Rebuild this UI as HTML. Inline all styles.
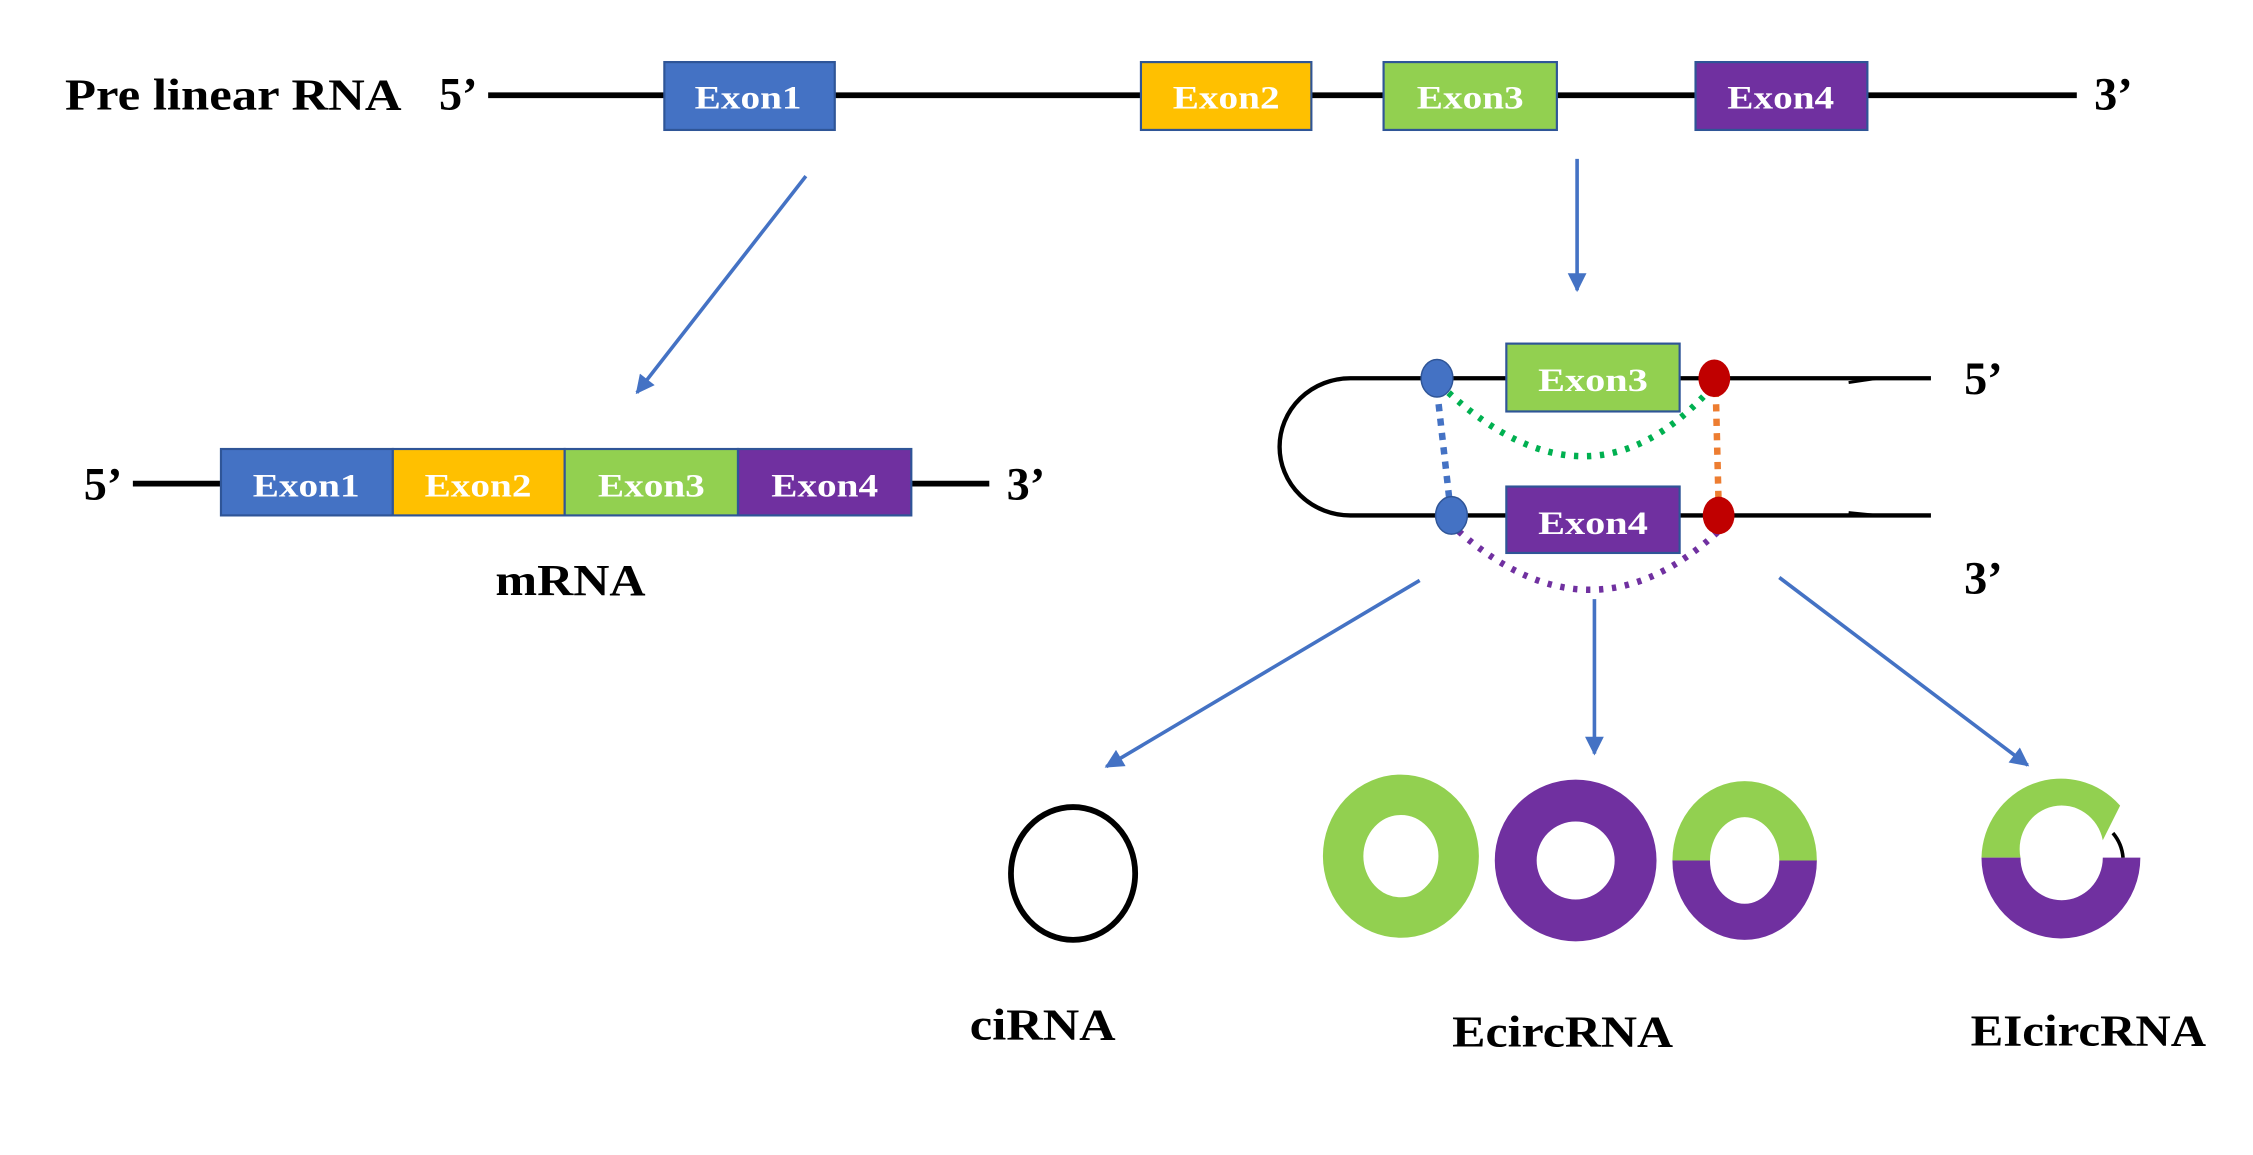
<!DOCTYPE html>
<html><head><meta charset="utf-8"><style>
html,body{margin:0;padding:0;background:#fff;}
svg{display:block;}
text{font-family:"Liberation Serif",serif;font-weight:bold;}
</style></head><body>
<svg width="2253" height="1155" viewBox="0 0 1560 800" preserveAspectRatio="none" xmlns="http://www.w3.org/2000/svg">
<defs>
<marker id="ah" viewBox="0 0 10 10" refX="9" refY="5" markerWidth="15" markerHeight="13" orient="auto" markerUnits="userSpaceOnUse">
<path d="M0,0 L10,5 L0,10 z" fill="#4472C4"/></marker>
</defs>
<rect width="1560" height="800" fill="#fff"/>
<!-- Pre linear RNA -->
<text x="45" y="76" font-size="31" textLength="233" lengthAdjust="spacingAndGlyphs">Pre linear RNA</text>
<text x="304" y="76" font-size="32">5’</text>
<line x1="338" y1="66" x2="1438" y2="66" stroke="#000" stroke-width="4"/>
<text x="1450" y="76" font-size="32">3’</text>
<g stroke-width="1.5" stroke="#2F5597">
<rect x="460" y="43" width="118" height="47" fill="#4472C4"/>
<rect x="790" y="43" width="118" height="47" fill="#FFC000"/>
<rect x="958" y="43" width="120" height="47" fill="#92D050"/>
<rect x="1174" y="43" width="119" height="47" fill="#7030A0"/>
</g>
<g font-size="23" fill="#fff" text-anchor="middle">
<text x="518" y="75" textLength="74" lengthAdjust="spacingAndGlyphs">Exon1</text>
<text x="849" y="75" textLength="74" lengthAdjust="spacingAndGlyphs">Exon2</text>
<text x="1018" y="75" textLength="74" lengthAdjust="spacingAndGlyphs">Exon3</text>
<text x="1233" y="75" textLength="74" lengthAdjust="spacingAndGlyphs">Exon4</text>
</g>
<!-- arrows -->
<g stroke="#4472C4" stroke-width="2.5" marker-end="url(#ah)">
<line x1="558" y1="122" x2="441" y2="272"/>
<line x1="1092" y1="110" x2="1092" y2="201"/>
<line x1="983" y1="402" x2="766" y2="531"/>
<line x1="1104" y1="415" x2="1104" y2="522"/>
<line x1="1232" y1="400" x2="1404" y2="530"/>
</g>
<!-- mRNA -->
<text x="58" y="346" font-size="32">5’</text>
<line x1="92" y1="335" x2="685" y2="335" stroke="#000" stroke-width="4"/>
<text x="697" y="346" font-size="32">3’</text>
<g stroke="#2F5597" stroke-width="1.5">
<rect x="153" y="311" width="119" height="46" fill="#4472C4"/>
<rect x="272" y="311" width="119" height="46" fill="#FFC000"/>
<rect x="391" y="311" width="120" height="46" fill="#92D050"/>
<rect x="511" y="311" width="120" height="46" fill="#7030A0"/>
</g>
<g font-size="23" fill="#fff" text-anchor="middle">
<text x="212" y="344" textLength="74" lengthAdjust="spacingAndGlyphs">Exon1</text>
<text x="331" y="344" textLength="74" lengthAdjust="spacingAndGlyphs">Exon2</text>
<text x="451" y="344" textLength="74" lengthAdjust="spacingAndGlyphs">Exon3</text>
<text x="571" y="344" textLength="74" lengthAdjust="spacingAndGlyphs">Exon4</text>
</g>
<text x="395" y="412" font-size="31" text-anchor="middle" textLength="104" lengthAdjust="spacingAndGlyphs">mRNA</text>
<!-- hairpin -->
<path d="M1337,262 L935,262 A49,47.5 0 0 0 935,357 L1337,357" fill="none" stroke="#000" stroke-width="3"/>
<path d="M1280,265 L1300,262" stroke="#000" stroke-width="2"/>
<path d="M1280,355 L1300,357" stroke="#000" stroke-width="2"/>
<path d="M1003,272 Q1100,360 1182,272" fill="none" stroke="#00B050" stroke-width="4.5" stroke-dasharray="3,6"/>
<path d="M1010,368 Q1103,450 1192,366" fill="none" stroke="#7030A0" stroke-width="4.5" stroke-dasharray="3,6"/>
<line x1="995" y1="270" x2="1004" y2="350" stroke="#4472C4" stroke-width="4.5" stroke-dasharray="5,5"/>
<line x1="1188" y1="270" x2="1190" y2="350" stroke="#ED7D31" stroke-width="4.5" stroke-dasharray="5,5"/>
<rect x="1043" y="238" width="120" height="47" fill="#92D050" stroke="#2F5597" stroke-width="1.5"/>
<rect x="1043" y="337" width="120" height="46" fill="#7030A0" stroke="#2F5597" stroke-width="1.5"/>
<text x="1103" y="271" font-size="23" fill="#fff" text-anchor="middle" textLength="76" lengthAdjust="spacingAndGlyphs">Exon3</text>
<text x="1103" y="370" font-size="23" fill="#fff" text-anchor="middle" textLength="76" lengthAdjust="spacingAndGlyphs">Exon4</text>
<ellipse cx="995" cy="262" rx="11" ry="13" fill="#4472C4" stroke="#2F5597"/>
<ellipse cx="1005" cy="357" rx="11" ry="13" fill="#4472C4" stroke="#2F5597"/>
<ellipse cx="1187" cy="262" rx="11" ry="13" fill="#C00000"/>
<ellipse cx="1190" cy="357" rx="11" ry="13" fill="#C00000"/>
<text x="1360" y="273" font-size="32">5’</text>
<text x="1360" y="411" font-size="32">3’</text>
<!-- circles -->
<ellipse cx="743" cy="605" rx="43" ry="46" fill="none" stroke="#000" stroke-width="4"/>
<text x="722" y="720" font-size="31" text-anchor="middle" textLength="101" lengthAdjust="spacingAndGlyphs">ciRNA</text>
<ellipse cx="970" cy="593" rx="40" ry="42.5" fill="none" stroke="#92D050" stroke-width="28"/>
<ellipse cx="1091" cy="596" rx="41.5" ry="41.5" fill="none" stroke="#7030A0" stroke-width="29"/>
<path d="M1158,596 A50,55 0 0 1 1258,596 L1232,596 A24,30 0 0 0 1184,596 Z" fill="#92D050"/>
<path d="M1158,596 A50,55 0 0 0 1258,596 L1232,596 A24,30 0 0 1 1184,596 Z" fill="#7030A0"/>
<text x="1082" y="725" font-size="31" text-anchor="middle" textLength="153" lengthAdjust="spacingAndGlyphs">EcircRNA</text>
<path d="M1372,594 A55,56 0 0 1 1468,558 L1456,582 A28,29 0 0 0 1399,594 Z" fill="#92D050"/>
<path d="M1372,594 A55,56 0 0 0 1482,594 L1456,594 A28,29 0 0 1 1399,594 Z" fill="#7030A0"/>
<path d="M1463,577 A30,30 0 0 1 1470,594" fill="none" stroke="#000" stroke-width="2.5"/>
<text x="1446" y="724" font-size="31" text-anchor="middle" textLength="163" lengthAdjust="spacingAndGlyphs">EIcircRNA</text>
</svg>
</body></html>
